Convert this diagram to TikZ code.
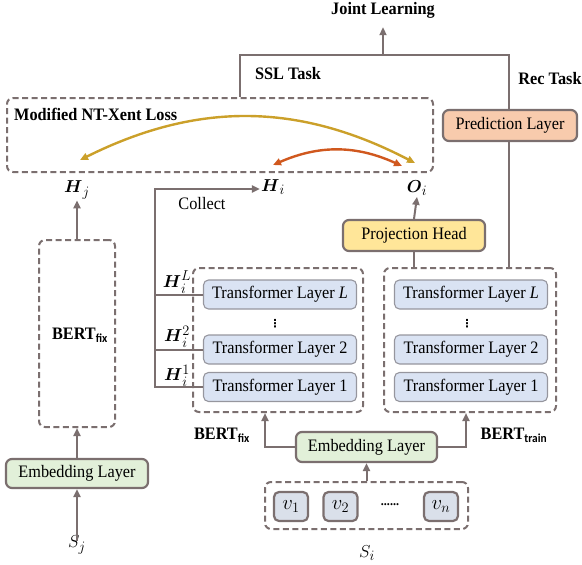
\documentclass[tikz,border=0pt]{standalone}
\usepackage{amsmath}
\usepackage{fontspec}
\setmainfont{Liberation Serif}[FakeStretch=0.93]
\newfontfamily\subfont{Carlito}[FakeStretch=0.93]
\newfontfamily\symfont{DejaVu Sans}
\usetikzlibrary{arrows.meta}

% larger script sizes for the symbol labels
\DeclareMathSizes{19}{19}{14.5}{11}
\DeclareMathSizes{21}{21}{15.5}{12}

\definecolor{lineC}{RGB}{123,111,111}
\definecolor{tFill}{RGB}{218,227,243}
\definecolor{tEdge}{RGB}{150,150,158}
\definecolor{eFill}{RGB}{226,240,217}
\definecolor{pFill}{RGB}{255,230,153}
\definecolor{rFill}{RGB}{248,203,173}
\definecolor{vFill}{RGB}{218,224,234}
\definecolor{goldC}{RGB}{203,160,42}
\definecolor{redC}{RGB}{208,88,30}

\newcommand\bertname[1]{\textbf{BERT}\textsubscript{\subfont\bfseries #1}}

\tikzset{
  txt/.style={font=\fontsize{17.5}{20}\selectfont, inner sep=1pt},
  mathlbl/.style={font=\fontsize{19}{22}\selectfont, inner sep=1pt},
  lbl/.style={font=\fontsize{17.5}{20}\selectfont\bfseries, inner sep=1pt},
  link/.style={draw=lineC, line width=2pt},
  arr/.style={link, -{Triangle[length=8pt,width=7pt]}},
  dashbox/.style={draw=lineC, line width=2pt, dash pattern=on 6pt off 3.5pt,
    rounded corners=6pt, inner sep=0pt},
  layer/.style={txt, draw=tEdge, line width=1.1pt, fill=tFill, rounded corners=5pt,
    minimum width=153pt, minimum height=29pt},
  solidbox/.style={txt, draw=lineC, line width=2.2pt, rounded corners=6pt,
    minimum height=30pt},
  vbox/.style={font=\fontsize{21}{22}\selectfont, inner sep=0pt, draw=lineC,
    line width=2.2pt, fill=vFill, rounded corners=5pt,
    minimum width=34pt, minimum height=29pt},
  vdotsnode/.style={font=\fontsize{11}{11}\selectfont\symfont\bfseries, inner sep=0pt},
  goldarc/.style={draw=goldC, line width=2.4pt,
    {Triangle[length=8pt,width=7pt]}-{Triangle[length=8pt,width=7pt]}},
  redarc/.style={draw=redC, line width=2.4pt,
    {Triangle[length=8pt,width=7pt]}-{Triangle[length=8pt,width=7pt]}},
}

\begin{document}
\begin{tikzpicture}[x=1pt,y=-1pt]
\useasboundingbox (0,0) rectangle (582,565);

% ---- top: joint objective ----
\node[lbl] (joint) at (383,10) {Joint Learning};
\node[lbl] (ssl) at (288,74) {SSL Task};
\node[lbl] (rec) at (550,79) {Rec Task};
\node[solidbox, fill=rFill, minimum width=134pt, minimum height=31pt] (pred) at (510,125.5) {Prediction Layer};

% ---- contrastive loss ----
\node[dashbox, minimum width=426pt, minimum height=74pt] (loss) at (220,135) {};
\node[lbl, anchor=west] (losslbl) at (13,114) {Modified NT-Xent Loss};

\node[mathlbl] (Hj) at (77,190) {$\boldsymbol{H}_j$};
\node[mathlbl] (Hi) at (273,187) {$\boldsymbol{H}_i$};
\node[mathlbl] (Oi) at (417,188) {$\boldsymbol{O}_i$};

\coordinate (gL) at (80,160);
\coordinate (gR) at (415,163);
\coordinate (rL) at (273,165);
\coordinate (rR) at (402,166);
\draw[goldarc] (gL) to[bend left=27] (gR);
\draw[redarc] (rL) to[bend left=24] (rR);

% ---- frozen encoder (left) ----
\node[dashbox, minimum width=76pt, minimum height=187pt] (lbox) at (77,333.5) {};
\node[txt] (lboxlbl) at (80,335) {\bertname{fix}};
\node[solidbox, fill=eFill, minimum width=142pt, minimum height=29pt] (embL) at (77,473.5) {Embedding Layer};
\node[mathlbl] (Sj) at (77,545) {$S_j$};

% ---- frozen encoder (middle) ----
\node[dashbox, minimum width=170pt, minimum height=144pt] (mbox) at (278,340) {};
\node[layer] (mL) at (280,294.5) {Transformer Layer \textit{L}};
\node[layer] (m2) at (280,349.5) {Transformer Layer 2};
\node[layer] (m1) at (280,387) {Transformer Layer 1};
\node[vdotsnode] (mdots) at (275,324) {⋮};

% ---- trainable encoder (right) ----
\node[dashbox, minimum width=172pt, minimum height=144pt] (rbox) at (470,340) {};
\node[layer] (rL) at (471,294.5) {Transformer Layer \textit{L}};
\node[layer] (r2) at (471,349.5) {Transformer Layer 2};
\node[layer] (r1) at (471,387) {Transformer Layer 1};
\node[vdotsnode] (rdots) at (467,324) {⋮};

\node[solidbox, fill=pFill, minimum width=142pt, minimum height=31pt] (proj) at (414,235.5) {Projection Head};

% ---- shared input ----
\node[solidbox, fill=eFill, minimum width=141pt, minimum height=30pt] (embM) at (366.5,447) {Embedding Layer};
\node[lbl] (fixlbl) at (222,435) {\bertname{fix}};
\node[lbl] (trainlbl) at (514,435) {\bertname{train}};

\node[dashbox, minimum width=203pt, minimum height=47pt] (seq) at (366.5,505.5) {};
\node[vbox] (v1) at (291,506.5) {$v_1$};
\node[vbox] (v2) at (340.5,506.5) {$v_2$};
\node[vbox] (vn) at (441,506.5) {$v_n$};
\node[txt, font=\fontsize{13}{13}\selectfont\bfseries] (vdots) at (390,505) {......};
\node[mathlbl] (Si) at (367,553) {$S_i$};

% ---- hidden-state collection ----
\node[mathlbl] (hL) at (177,282) {$\boldsymbol{H}_i^L$};
\node[mathlbl] (h2) at (177,337) {$\boldsymbol{H}_i^2$};
\node[mathlbl] (h1) at (177,376) {$\boldsymbol{H}_i^1$};
\node[txt] (collect) at (202,204) {Collect};

\coordinate (busTop) at (155,189);
\draw[link] (mL.west) -- (mL.west -| busTop);
\draw[link] (m2.west) -- (m2.west -| busTop);
\draw[arr] (m1.west) -- (m1.west -| busTop) -- (busTop) -- (busTop -| Hi.west);

% ---- task heads ----
\coordinate (recTop) at (509,55);
\coordinate (sslTop) at (240,55);
\coordinate (joinPt) at (383,55);
\draw[link] (rbox.north -| recTop) -- (pred.south -| recTop);
\draw[link] (pred.north -| recTop) -- (recTop) -- (sslTop) -- (sslTop |- loss.north);
\draw[arr] (joinPt) -- ([yshift=-8pt]joint.south);

\draw[link] (proj.south) -- (proj.south |- rbox.north);
\draw[arr] (proj.north) -- (Oi.south);

% ---- left column flow ----
\draw[arr] (lbox.north) -- (Hj.south);
\draw[arr] (embL.north) -- (lbox.south);
\draw[arr] ([yshift=-6pt]Sj.north) -- (embL.south);

% ---- shared input flow ----
\draw[arr] (embM.west) -| ([xshift=-13pt]mbox.south);
\draw[arr] (embM.east) -| ([xshift=-4pt]rbox.south);
\draw[arr] (seq.north) -- (embM.south);
\end{tikzpicture}
\end{document}
